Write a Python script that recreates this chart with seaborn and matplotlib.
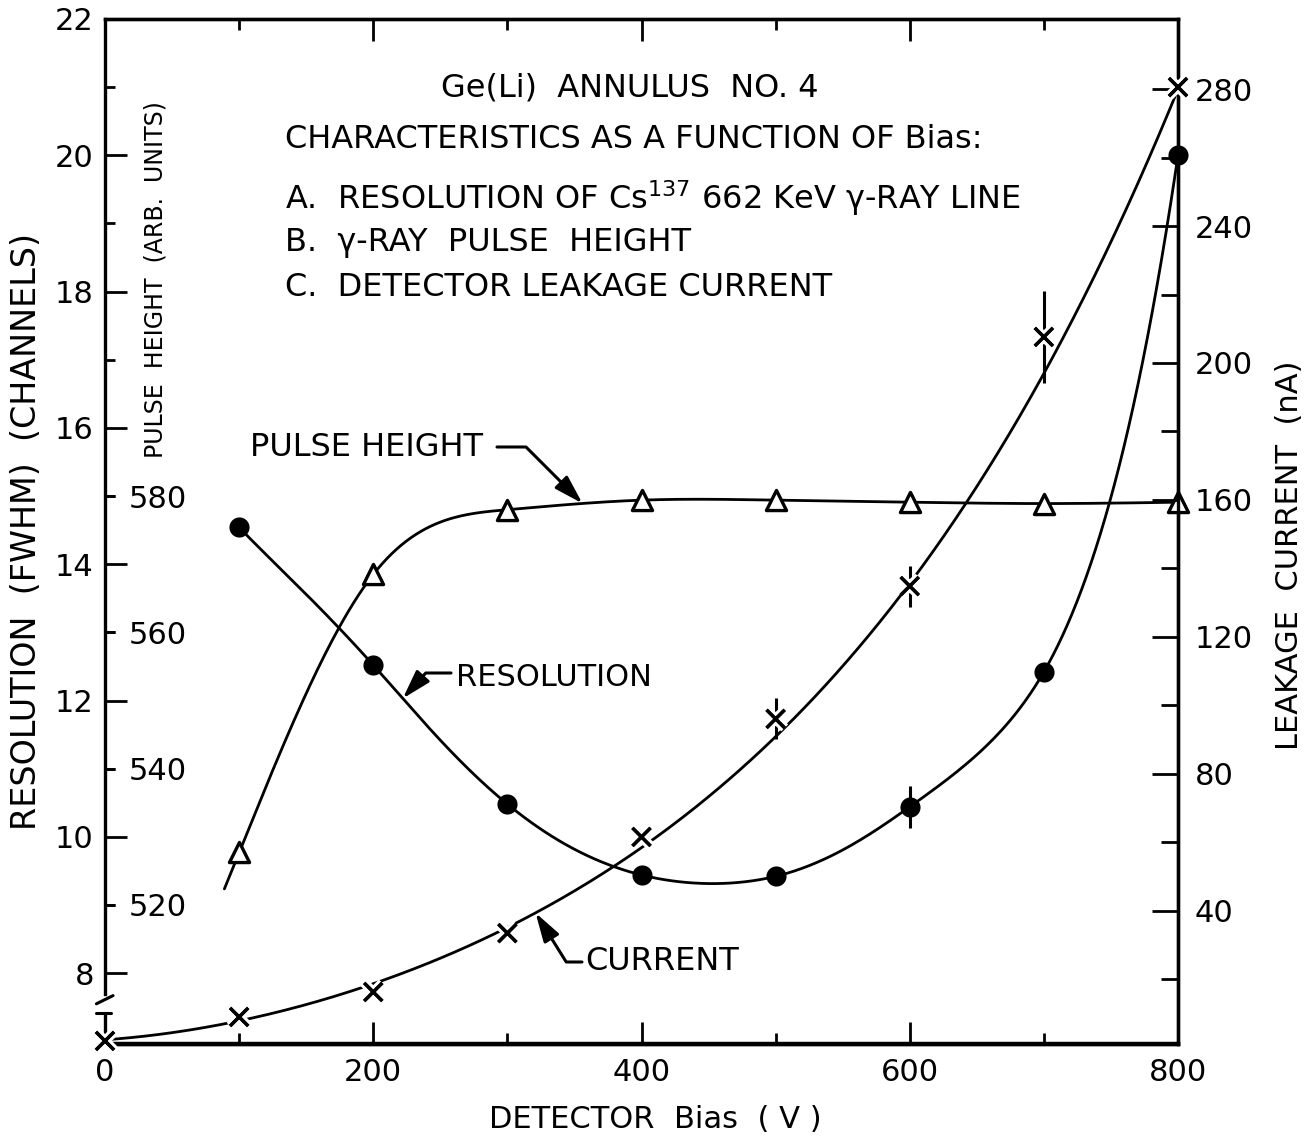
import numpy as np
import pandas as pd
import matplotlib
matplotlib.use("Agg")
import matplotlib.pyplot as plt
import matplotlib.patheffects as pe
from matplotlib.ticker import MultipleLocator, FixedLocator
import seaborn as sns

# ---- measured data -------------------------------------------------------
bias = [0, 100, 200, 300, 400, 500, 600, 700, 800]          # detector bias (V)

res_bias = [100, 200, 300, 400, 500, 600, 700, 800]
resolution = [14.54, 12.52, 10.48, 9.44, 9.42, 10.44, 12.42, 20.0]  # FWHM channels
res_err = [0, 0, 0, 0, 0, 0.31, 0, 0]

ph_bias = [100, 200, 300, 400, 500, 600, 700, 800]
pulse_height = [527.7, 568.5, 578.0, 579.4, 579.4, 579.1, 578.9, 579.1]  # arb. units

current = [1.9, 8.9, 16.2, 33.4, 61.5, 96.0, 134.8, 207.6, 280.6]    # leakage current (nA)
cur_err = [0, 0, 0, 0, 0, 6.0, 6.0, 13.5, 0]

x_ticks = [0, 200, 400, 600, 800]
res_ticks = [8, 10, 12, 14, 16, 18, 20, 22]
ph_ticks = [520, 540, 560, 580]
cur_ticks = [40, 80, 120, 160, 200, 240, 280]


def natural_spline(xk, yk, xs):
    """Natural cubic spline through (xk, yk) evaluated at xs."""
    xk = np.asarray(xk, float)
    yk = np.asarray(yk, float)
    xs = np.asarray(xs, float)
    n = len(xk)
    h = np.diff(xk)
    A = np.zeros((n, n))
    b = np.zeros(n)
    A[0, 0] = A[-1, -1] = 1.0
    for i in range(1, n - 1):
        A[i, i - 1] = h[i - 1]
        A[i, i] = 2 * (h[i - 1] + h[i])
        A[i, i + 1] = h[i]
        b[i] = 3 * ((yk[i + 1] - yk[i]) / h[i] - (yk[i] - yk[i - 1]) / h[i - 1])
    c = np.linalg.solve(A, b)
    a = yk[:-1]
    bb = (yk[1:] - yk[:-1]) / h - h * (2 * c[:-1] + c[1:]) / 3
    d = (c[1:] - c[:-1]) / (3 * h)
    idx = np.clip(np.searchsorted(xk, xs) - 1, 0, n - 2)
    t = xs - xk[idx]
    return a[idx] + bb[idx] * t + c[idx] * t ** 2 + d[idx] * t ** 3


# smooth curves drawn through the measurements
def res_smooth(x):
    # spline taken on log(R - 8) keeps the sharp rise at high bias free of wiggles
    return 8 + np.exp(natural_spline(res_bias, np.log(np.array(resolution) - 8), x))


def ph_smooth(x):
    return natural_spline(ph_bias, pulse_height, x)


# weighted least-squares curve for the current: the small low-bias readings
# are held tightly, the widely scattered 700 V reading carries little weight
cur_weight = [3.0, 3.0, 2.0, 1.0, 1.0, 1.0, 2.5, 1.0 / 13.5, 1.0]
cur_fit = np.polyfit(bias, current, 4, w=cur_weight)


def cur_smooth(x):
    return np.polyval(cur_fit, x)


xs_res = np.linspace(res_bias[0], res_bias[-1], 400)
res_curve = pd.DataFrame({"bias": xs_res, "val": res_smooth(xs_res)})
xs_ph = np.linspace(89, ph_bias[-1], 400)
ph_curve = pd.DataFrame({"bias": xs_ph, "val": ph_smooth(xs_ph)})
xs_cur = np.linspace(bias[0], bias[-1], 400)
cur_curve = pd.DataFrame({"bias": xs_cur, "val": cur_smooth(xs_cur)})

# ---- style ---------------------------------------------------------------
sns.set_style("ticks")
plt.rcParams["font.family"] = ["DejaVu Sans"]
plt.rcParams.update({
    "text.color": "black", "axes.labelcolor": "black",
    "axes.edgecolor": "black", "xtick.color": "black", "ytick.color": "black",
    "axes.linewidth": 2.2,
})

W, H = 1310, 1141
fig = plt.figure(figsize=(W / 100, H / 100), dpi=100)
ax = fig.add_axes([105 / W, 1 - 1044 / H, (1178 - 105) / W, (1044 - 19) / H])

RES_LIM = (6.96, 22.0)
ax.set_xlim(0, 800)
ax.set_ylim(*RES_LIM)

ax_ph = ax.twinx()
ax_ph.set_ylim(580 + (RES_LIM[0] - 15) * 10, 580 + (RES_LIM[1] - 15) * 10)
ax_cur = ax.twinx()
ax_cur.set_ylim(1, 300.5)

lw = 2.0

# resolution
sns.lineplot(data=res_curve, x="bias", y="val", ax=ax, color="black", lw=lw)
ax.vlines([b for b, e in zip(res_bias, res_err) if e > 0],
          [r - e for r, e in zip(resolution, res_err) if e > 0],
          [r + e for r, e in zip(resolution, res_err) if e > 0],
          color="black", lw=2.2)
sns.scatterplot(x=res_bias, y=resolution, ax=ax, marker="o", s=210,
                color="black", edgecolor="black", linewidth=0, clip_on=False,
                zorder=5)

# pulse height
sns.lineplot(data=ph_curve, x="bias", y="val", ax=ax_ph, color="black", lw=lw)
sns.scatterplot(x=ph_bias, y=pulse_height, ax=ax_ph, marker="^", s=210,
                facecolor="white", edgecolor="black", linewidth=2.4,
                clip_on=False, zorder=5)

# leakage current
sns.lineplot(data=cur_curve, x="bias", y="val", ax=ax_cur, color="black", lw=lw)
ax_cur.vlines([b for b, e in zip(bias, cur_err) if e > 0],
              [c - e for c, e in zip(current, cur_err) if e > 0],
              [c + e for c, e in zip(current, cur_err) if e > 0],
              color="black", lw=2.2)
sns.scatterplot(x=bias, y=current, ax=ax_cur, marker="x", s=170,
                color="black", linewidth=2.4, clip_on=False, zorder=5)
ax_cur.collections[-1].set_path_effects(
    [pe.withStroke(linewidth=7, foreground="white"), pe.Normal()])

for a in (ax, ax_ph, ax_cur):
    a.set_xlabel("")
    a.set_ylabel("")
    for s in a.spines.values():
        s.set_linewidth(2.4)
        s.set_color("black")

# ---- axes: bias --------------------------------------------------------
ax.xaxis.set_major_locator(FixedLocator(x_ticks))
ax.xaxis.set_minor_locator(MultipleLocator(100))
ax.tick_params(axis="x", which="both", direction="in", top=True, bottom=True,
               labelsize=22, pad=10, width=2)
ax.tick_params(axis="x", which="major", length=16)
ax.tick_params(axis="x", which="minor", length=8)
ax.set_xticklabels([str(v) for v in x_ticks])
ax.spines["bottom"].set_linewidth(3.2)

# resolution axis (left)
ax.yaxis.set_major_locator(FixedLocator(res_ticks))
ax.yaxis.set_minor_locator(FixedLocator(list(range(9, 22, 2))))
ax.tick_params(axis="y", which="both", direction="in", labelsize=22, pad=8,
               width=2, right=False)
ax.tick_params(axis="y", which="major", length=16)
ax.tick_params(axis="y", which="minor", length=7)
ax.set_yticklabels([str(v) for v in res_ticks])
ax.spines["left"].set_bounds(7.7, RES_LIM[1])

# break symbol on the resolution axis
yt = ax.get_yaxis_transform()
ax.plot([-0.008, 0.0075], [7.55, 7.67], transform=yt, color="black", lw=2.2,
        clip_on=False)
ax.plot([-0.008, 0.006], [7.42, 7.42], transform=yt, color="black", lw=2.2,
        clip_on=False)
ax.plot([0.0, 0.0], [7.42, RES_LIM[0]], transform=yt, color="black", lw=2.4,
        clip_on=False)

# pulse-height axis, drawn inside along the left edge
ax_ph.spines["right"].set_position(("axes", 0.0))
ax_ph.spines["right"].set_visible(False)
ax_ph.yaxis.set_major_locator(FixedLocator(ph_ticks))
ax_ph.yaxis.set_minor_locator(FixedLocator([]))
ax_ph.tick_params(axis="y", which="major", direction="out", length=7, width=2,
                  labelsize=22, pad=10, left=False, right=True, labelright=True,
                  labelleft=False)
ax_ph.set_yticklabels([str(v) for v in ph_ticks])
for side in ("left", "top", "bottom"):
    ax_ph.spines[side].set_visible(False)

# leakage current axis (right)
ax_cur.yaxis.set_major_locator(FixedLocator(cur_ticks))
ax_cur.yaxis.set_minor_locator(FixedLocator(list(range(20, 280, 40))))
ax_cur.tick_params(axis="y", which="both", direction="in", labelsize=22,
                   pad=12, width=2)
ax_cur.tick_params(axis="y", which="major", length=19)
ax_cur.tick_params(axis="y", which="minor", length=12)
ax_cur.set_yticklabels([str(v) for v in cur_ticks])
ax_cur.spines["left"].set_visible(False)


def fpos(x, y):
    return x / W, 1 - y / H


# ---- axis titles ----------------------------------------------------------
fig.text(*fpos(655, 1120), "DETECTOR  Bias  ( V )", ha="center", va="center",
         fontsize=22)
fig.text(*fpos(27, 532), "RESOLUTION  (FWHM)  (CHANNELS)", ha="center",
         va="center", rotation=90, fontsize=24)
fig.text(*fpos(1290, 555), "LEAKAGE  CURRENT  (nA)", ha="center", va="center",
         rotation=90, fontsize=22)
fig.text(*fpos(155, 280), "PULSE  HEIGHT  (ARB.  UNITS)", ha="center",
         va="center", rotation=90, fontsize=17)

# ---- description block ------------------------------------------------------
fs = 23
fig.text(*fpos(630, 88), "Ge(Li)  ANNULUS  NO. 4", ha="center", va="center",
         fontsize=fs)
fig.text(*fpos(285, 140), "CHARACTERISTICS AS A FUNCTION OF Bias:",
         ha="left", va="center", fontsize=fs)
fig.text(*fpos(285, 198), "A.  RESOLUTION OF Cs$^{137}$ 662 KeV γ-RAY LINE",
         ha="left", va="center", fontsize=fs)
fig.text(*fpos(285, 242), "B.  γ-RAY  PULSE  HEIGHT", ha="left", va="center",
         fontsize=fs)
fig.text(*fpos(285, 288), "C.  DETECTOR LEAKAGE CURRENT", ha="left",
         va="center", fontsize=fs)

# ---- curve labels with leader arrows ---------------------------------------
arrow = dict(arrowstyle="-|>,head_length=0.8,head_width=0.24",
             color="black", lw=2.2, shrinkA=0, shrinkB=0, mutation_scale=22)

tip_ph = 356.0
ax_ph.annotate("", xy=(tip_ph, float(ph_smooth([tip_ph])[0])),
               xytext=fpos(497, 447), textcoords="figure fraction",
               arrowprops=dict(arrow, connectionstyle="angle,angleA=0,angleB=-45,rad=0"))
fig.text(*fpos(367, 447), "PULSE HEIGHT", ha="center", va="center",
         fontsize=fs)

tip_res = 222.0
ax.annotate("", xy=(tip_res, float(res_smooth([tip_res])[0])),
            xytext=fpos(451, 673), textcoords="figure fraction",
            arrowprops=dict(arrow, connectionstyle="angle,angleA=0,angleB=48,rad=0"))
fig.text(*fpos(554, 678), "RESOLUTION", ha="center", va="center", fontsize=22)

tip_cur = 321.0
ax_cur.annotate("", xy=(tip_cur, float(cur_smooth(tip_cur))),
                xytext=fpos(582, 962), textcoords="figure fraction",
                arrowprops=dict(arrow, connectionstyle="angle,angleA=0,angleB=-58,rad=0"))
fig.text(*fpos(662, 962), "CURRENT", ha="center", va="center", fontsize=fs)

fig.savefig("out.png", dpi=100)
